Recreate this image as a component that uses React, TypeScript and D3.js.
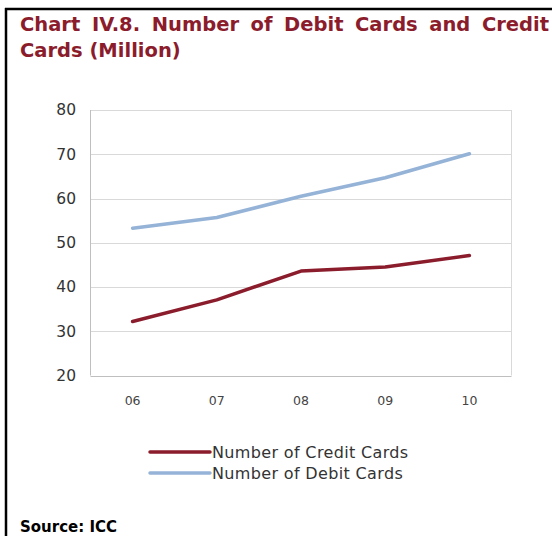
import React, { useEffect, useRef } from "react";
import * as d3 from "d3";

const years = ["06", "07", "08", "09", "10"];
const creditCards = [32.2, 37.1, 43.6, 44.5, 47.1];
const debitCards = [53.3, 55.7, 60.5, 64.7, 70.1];
const yTicks = [20, 30, 40, 50, 60, 70, 80];
const seriesNames = ["Number of Credit Cards", "Number of Debit Cards"];
const seriesColors = ["#8b1c2c", "#95b3d7"];

const W = 552;
const H = 536;
const plot = { left: 90.5, right: 511.5, top: 110, bottom: 375.5 };

export default function App() {
  const titleRef = useRef<SVGTextElement>(null);

  const x = d3.scaleBand<string>().domain(years).range([plot.left, plot.right]);
  const y = d3.scaleLinear().domain([20, 80]).range([plot.bottom, plot.top]);
  const line = d3
    .line<number>()
    .x((_, i) => (x(years[i]) as number) + x.bandwidth() / 2)
    .y((d) => y(d));

  useEffect(() => {
    const t = titleRef.current;
    if (!t) return;
    t.setAttribute("word-spacing", "0");
    const natural = t.getComputedTextLength();
    const target = 549 - 20;
    const words = (t.textContent || "").split(" ").length;
    const extra = (target - natural) / (words - 1);
    t.setAttribute("word-spacing", String(extra));
  }, []);

  const series = [creditCards, debitCards];

  return (
    <svg
      width={W}
      height={H}
      style={{ position: "absolute", left: 0, top: 0, background: "#fff" }}
      fontFamily="'DejaVu Sans', Verdana, sans-serif"
    >
      <rect x={0} y={0} width={W} height={H} fill="#fff" />
      {/* frame */}
      <line x1={5} x2={W} y1={9} y2={9} stroke="#000" strokeWidth={2.5} />
      <line x1={6} x2={6} y1={8} y2={H} stroke="#000" strokeWidth={2.5} />

      {/* title */}
      <text
        ref={titleRef}
        x={20}
        y={31}
        fontSize={19.5}
        fontWeight="bold"
        fill="#8b1c2c"
      >
        Chart IV.8. Number of Debit Cards and Credit
      </text>
      <text x={20} y={57} fontSize={19.5} fontWeight="bold" fill="#8b1c2c">
        Cards (Million)
      </text>

      {/* gridlines */}
      {yTicks.map((t) => (
        <line
          key={t}
          x1={plot.left}
          x2={plot.right}
          y1={Math.round(y(t)) + 0.5}
          y2={Math.round(y(t)) + 0.5}
          stroke={t === 20 ? "#bfbfbf" : "#d9d9d9"}
          strokeWidth={1}
        />
      ))}
      <line x1={plot.left} x2={plot.left} y1={plot.top} y2={plot.bottom} stroke="#bfbfbf" />
      <line x1={plot.right} x2={plot.right} y1={plot.top} y2={plot.bottom} stroke="#d9d9d9" />

      {/* y labels */}
      {yTicks.map((t) => (
        <text
          key={t}
          x={76}
          y={y(t)}
          dy="0.35em"
          textAnchor="end"
          fontSize={15.5}
          fill="#333"
        >
          {t}
        </text>
      ))}

      {/* x labels */}
      {years.map((yr) => (
        <text
          key={yr}
          x={(x(yr) as number) + x.bandwidth() / 2}
          y={401}
          dy="0.35em"
          textAnchor="middle"
          fontSize={12.5}
          fill="#444"
        >
          {yr}
        </text>
      ))}

      {/* lines */}
      {series.map((s, i) => (
        <path
          key={i}
          d={line(s) || ""}
          fill="none"
          stroke={seriesColors[i]}
          strokeWidth={3.5}
          strokeLinecap="round"
          strokeLinejoin="round"
        />
      ))}

      {/* legend */}
      {seriesNames.map((n, i) => (
        <g key={n} transform={`translate(0, ${452 + i * 21})`}>
          <line x1={150} x2={210} y1={0} y2={0} stroke={seriesColors[i]} strokeWidth={3.5} strokeLinecap="round" />
          <text x={212} y={0} dy="0.35em" fontSize={16} letterSpacing={0.35} fill="#333">
            {n}
          </text>
        </g>
      ))}

      {/* source */}
      <text x={20} y={532} fontSize={15} fontWeight="bold" fill="#000">
        Source: ICC
      </text>
    </svg>
  );
}
